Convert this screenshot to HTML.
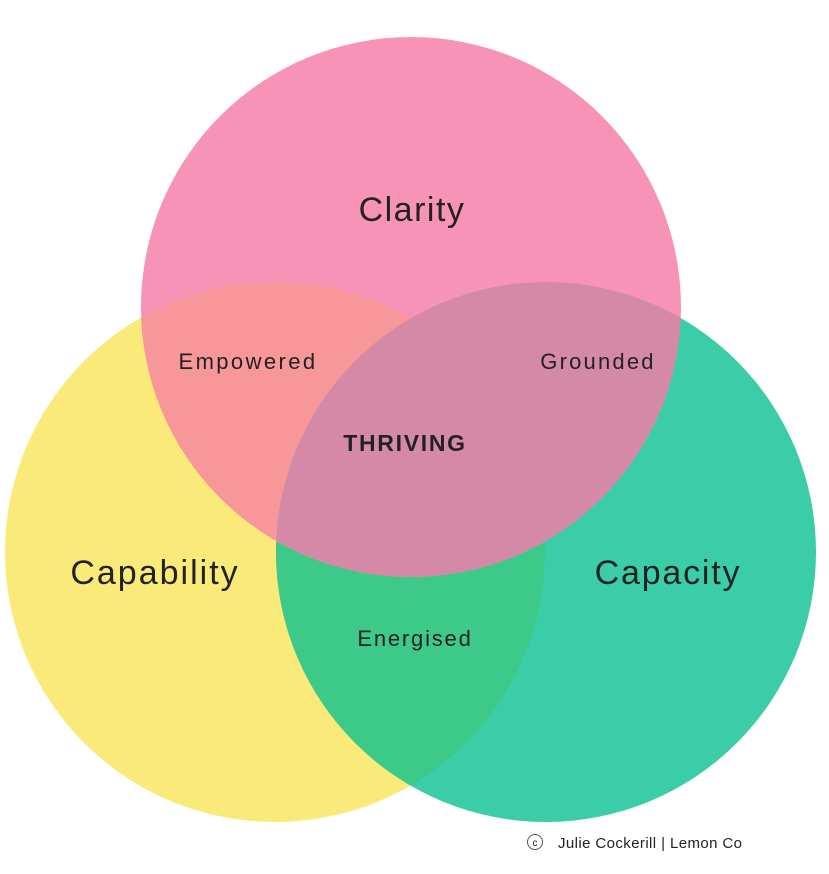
<!DOCTYPE html>
<html><head><meta charset="utf-8"><style>
html,body{margin:0;padding:0;background:#fff;width:829px;height:874px;overflow:hidden}
svg{display:block}
text{font-family:"Liberation Sans",sans-serif;fill:#222}
</style></head><body>
<svg width="829" height="874" viewBox="0 0 829 874" xmlns="http://www.w3.org/2000/svg">
<defs>
<clipPath id="cy"><circle cx="275" cy="552" r="270"/></clipPath>
<clipPath id="cg"><circle cx="546" cy="552" r="270"/></clipPath>
</defs>
<circle cx="275" cy="552" r="270" fill="#f9ea7a"/>
<circle cx="546" cy="552" r="270" fill="#3bcda7"/>
<circle cx="411" cy="307" r="270" fill="#f893b8"/>
<circle cx="546" cy="552" r="270" fill="#3dca88" clip-path="url(#cy)"/>
<circle cx="411" cy="307" r="270" fill="#f8979a" clip-path="url(#cy)"/>
<circle cx="411" cy="307" r="270" fill="#d48aa6" clip-path="url(#cg)"/>
<text x="412" y="221" font-size="34" text-anchor="middle" letter-spacing="1.5">Clarity</text>
<text x="155" y="584" font-size="34" text-anchor="middle" letter-spacing="2">Capability</text>
<text x="668" y="584" font-size="34" text-anchor="middle" letter-spacing="1.8">Capacity</text>
<text x="248" y="369" font-size="22" text-anchor="middle" letter-spacing="2.4">Empowered</text>
<text x="598" y="369" font-size="22" text-anchor="middle" letter-spacing="2.2">Grounded</text>
<text x="405" y="451" font-size="23" font-weight="bold" text-anchor="middle" letter-spacing="1.7">THRIVING</text>
<text x="415" y="646" font-size="22" text-anchor="middle" letter-spacing="1.8">Energised</text>
<circle cx="535" cy="842" r="7.5" fill="none" stroke="#555" stroke-width="1"/>
<text x="535" y="846" font-size="10" text-anchor="middle" fill="#555">c</text>
<text x="558" y="848" font-size="15" letter-spacing="0.4">Julie Cockerill | Lemon Co</text>
</svg>
</body></html>
